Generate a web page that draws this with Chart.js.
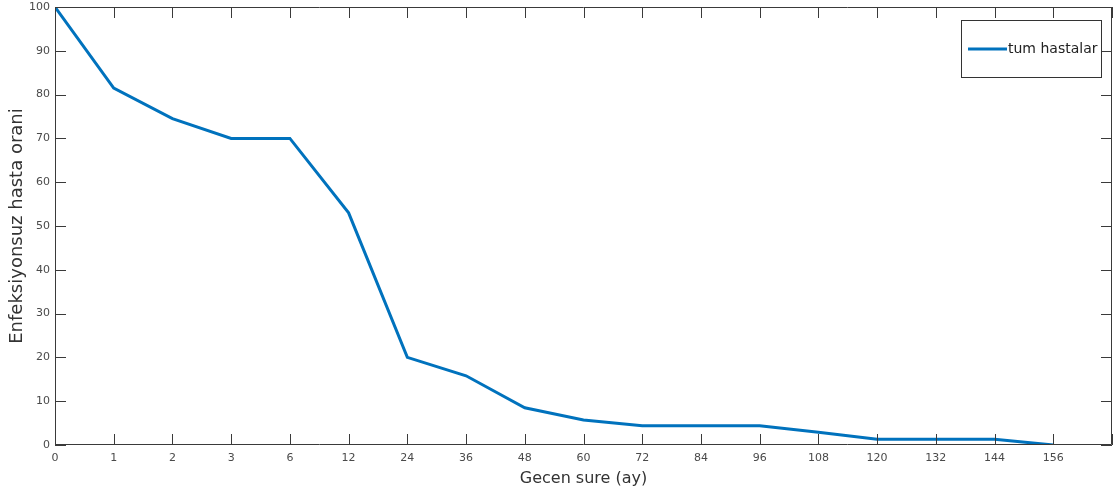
<!DOCTYPE html>
<html>
<head>
<meta charset="utf-8">
<script src="https://cdn.jsdelivr.net/npm/chart.js@4/dist/chart.umd.min.js"></script>
<style>
  html, body { margin: 0; padding: 0; background: #fff; }
  #wrap { width: 1114px; height: 494px; }
</style>
</head>
<body>
<div id="wrap"><canvas id="myChart"></canvas></div>
<script>
// months since surgery (x categories, evenly spaced)
var months = ['0', '1', '2', '3', '6', '12', '24', '36', '48', '60', '72', '84', '96', '108', '120', '132', '144', '156'];
// infection-free patient rate (%)
var tumHastalar = [100, 81.5, 74.5, 70, 70, 53, 20, 15.8, 8.5, 5.7, 4.4, 4.4, 4.4, 2.9, 1.3, 1.3, 1.3, 0];
var seriesLabel = 'tum hastalar';
var xTitle = 'Gecen sure (ay)';
var yTitle = 'Enfeksiyonsuz hasta orani';

var points = tumHastalar.map(function (v, i) { return { x: i, y: v } });

// matlab style box with inward ticks + boxed legend
const boxTicks = {
    id: 'boxTicks',
    afterDraw(chart) {
        const ctx = chart.ctx
        const a = chart.chartArea
        const x = chart.scales.x
        const y = chart.scales.y
        const tl = 11
        ctx.save()
        ctx.strokeStyle = '#3a3a3a'
        ctx.lineWidth = 1
        ctx.beginPath()
        ctx.rect(Math.round(a.left) + 0.5, Math.round(a.top) + 0.5,
            Math.round(a.right - a.left) - 1, Math.round(a.bottom - a.top) - 1)
        x.ticks.forEach(function (t) {
            const px = Math.round(x.getPixelForValue(t.value)) + 0.5
            ctx.moveTo(px, a.bottom); ctx.lineTo(px, a.bottom - tl)
            ctx.moveTo(px, a.top); ctx.lineTo(px, a.top + tl)
        })
        y.ticks.forEach(function (t) {
            const py = Math.round(y.getPixelForValue(t.value)) + 0.5
            ctx.moveTo(a.left, py); ctx.lineTo(a.left + tl, py)
            ctx.moveTo(a.right, py); ctx.lineTo(a.right - tl, py)
        })
        ctx.stroke()

        // legend
        const ds = chart.data.datasets[0]
        const lx = 961.5, ly = 20.5, lw = 140, lh = 57
        ctx.fillStyle = '#fff'
        ctx.fillRect(lx, ly, lw, lh)
        ctx.strokeStyle = '#333'
        ctx.strokeRect(lx, ly, lw, lh)
        ctx.strokeStyle = ds.borderColor
        ctx.lineWidth = 3
        ctx.beginPath()
        ctx.moveTo(968, ly + lh / 2); ctx.lineTo(1007, ly + lh / 2)
        ctx.stroke()
        ctx.fillStyle = '#222'
        ctx.font = '14px "DejaVu Sans"'
        ctx.textBaseline = 'middle'
        ctx.fillText(ds.label, 1008, ly + lh / 2)
        ctx.restore()
    }
}

const config = {
    type: 'line',
    data: {
        datasets: [{
            label: seriesLabel,
            data: points,
            borderColor: '#0072BD',
            backgroundColor: '#0072BD',
            borderWidth: 3,
            pointRadius: 0,
            tension: 0,
        }]
    },
    options: {
        responsive: true,
        maintainAspectRatio: false,
        animation: false,
        layout: { padding: { top: 7, right: 2, left: 0, bottom: 0 } },
        plugins: { legend: { display: false }, tooltip: { enabled: false } },
        scales: {
            x: {
                type: 'linear',
                min: 0,
                max: 18,
                grid: { display: false, drawTicks: false },
                border: { display: false },
                ticks: {
                    stepSize: 1,
                    autoSkip: false,
                    maxRotation: 0,
                    padding: 7,
                    color: '#4a4a4a',
                    font: { family: 'DejaVu Sans', size: 11 },
                    callback: function (v) { return months[v] !== undefined ? months[v] : '' }
                },
                title: {
                    display: true,
                    text: xTitle,
                    color: '#333',
                    font: { family: 'DejaVu Sans', size: 16 },
                    padding: { top: 0, bottom: 6 }
                },
                afterFit: function (s) {
                    s.height = 49
                    s.paddingLeft = 0
                    s.paddingRight = 0
                }
            },
            y: {
                min: 0,
                max: 100,
                grid: { display: false, drawTicks: false },
                border: { display: false },
                ticks: {
                    stepSize: 10,
                    padding: 5,
                    color: '#4a4a4a',
                    font: { family: 'DejaVu Sans', size: 11 }
                },
                title: {
                    display: true,
                    text: yTitle,
                    color: '#333',
                    font: { family: 'DejaVu Sans', size: 18 },
                    padding: { top: 7, bottom: 0 }
                },
                afterFit: function (s) {
                    s.width = 55
                    s.paddingTop = 0
                    s.paddingBottom = 0
                }
            }
        }
    },
    plugins: [boxTicks]
}

var myChart = new Chart(document.getElementById('myChart'), config)
</script>
</body>
</html>
